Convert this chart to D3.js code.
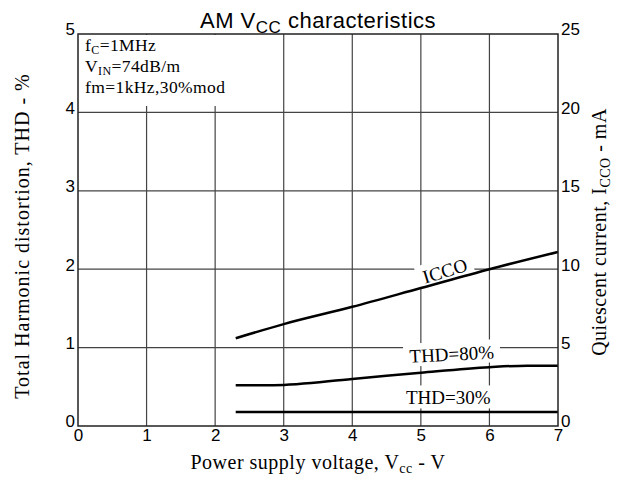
<!DOCTYPE html>
<html>
<head>
<meta charset="utf-8">
<script src="https://cdn.jsdelivr.net/npm/d3@7"></script>
<style>
body { margin: 0; background: #fff; }
.tick text { font-family: "Liberation Sans", Arial, sans-serif; font-size: 17px; fill: #000; }
.serif { font-family: "Liberation Serif", "Times New Roman", serif; fill: #000; }
</style>
</head>
<body>
<div id="chart"></div>
<script>
// data
var xTicks = [0, 1, 2, 3, 4, 5, 6, 7];
var thdTicks = [0, 1, 2, 3, 4, 5];
var iccTicks = [0, 5, 10, 15, 20, 25];

var iccoVcc = [2.3, 3, 4, 5, 6, 7];
var iccoMa = [5.6, 6.5, 7.6, 8.8, 10.0, 11.1];

var thd80Vcc = [2.3, 2.85, 4, 5, 6, 6.55, 7];
var thd80 = [0.52, 0.52, 0.6, 0.68, 0.75, 0.77, 0.77];

var thd30Vcc = [2.3, 7];
var thd30 = [0.18, 0.18];

var W = 619, H = 479;
var margin = {top: 34, bottom: 53, left: 78, right: 61};
var width = W - margin.left - margin.right;
var height = H - margin.top - margin.bottom;

var svg = d3.select("#chart").append("svg")
    .attr("width", W).attr("height", H);

var g = svg.append("g")
    .attr("transform", "translate(" + margin.left + "," + margin.top + ")");

var x = d3.scaleLinear().domain([0, 7]).range([0, width]);
var yL = d3.scaleLinear().domain([0, 5]).range([height, 0]);
var yR = d3.scaleLinear().domain([0, 25]).range([height, 0]);

// grid
g.selectAll(".vgrid").data(xTicks.slice(1, -1)).enter().append("line")
    .attr("x1", x).attr("x2", x).attr("y1", 0).attr("y2", height)
    .attr("stroke", "#444").attr("stroke-width", 1.2);
g.selectAll(".hgrid").data(thdTicks.slice(1, -1)).enter().append("line")
    .attr("x1", 0).attr("x2", width).attr("y1", yL).attr("y2", yL)
    .attr("stroke", "#444").attr("stroke-width", 1.2);

// condition box in the corner
var cond = g.append("g").attr("class", "serif").style("font-size", "17.5px").style("letter-spacing", "0.4px");
cond.append("rect").attr("x", 1).attr("y", 1).attr("width", 160).attr("height", 71).attr("fill", "#fff");
var t1 = cond.append("text").attr("x", 7).attr("y", 17);
t1.append("tspan").text("f");
t1.append("tspan").attr("dy", 3).style("font-size", "12px").text("C");
t1.append("tspan").attr("dy", -3).text("=1MHz");
var t2 = cond.append("text").attr("x", 7).attr("y", 38);
t2.append("tspan").text("V");
t2.append("tspan").attr("dy", 3).style("font-size", "12px").text("IN");
t2.append("tspan").attr("dy", -3).text("=74dB/m");
cond.append("text").attr("x", 7).attr("y", 59).text("fm=1kHz,30%mod");

// curve labels with white backing
function curveLabel(txt, cx, cy, angle) {
    var lg = g.append("g").attr("transform", "translate(" + cx + "," + cy + ") rotate(" + angle + ")");
    var bg = lg.append("rect").attr("fill", "#fff");
    var t = lg.append("text").attr("class", "serif").style("font-size", "19px")
        .attr("text-anchor", "middle").attr("dy", "0.35em").text(txt);
    var b = t.node().getBBox();
    bg.attr("x", b.x - 6).attr("y", b.y - 2).attr("width", b.width + 12).attr("height", b.height + 2);
    return lg;
}

var lineL = d3.line().x(function(d) { return x(d[0]); }).y(function(d) { return yL(d[1]); }).curve(d3.curveMonotoneX);
var lineR = d3.line().x(function(d) { return x(d[0]); }).y(function(d) { return yR(d[1]); }).curve(d3.curveMonotoneX);

curveLabel("ICCO", x(5.35), yR(9.9), -17);
curveLabel("THD=80%", x(5.45), yL(0.92), -3);
curveLabel("THD=30%", x(5.4), yL(0.36), 0);

g.append("path").datum(d3.zip(iccoVcc, iccoMa)).attr("d", lineR)
    .attr("fill", "none").attr("stroke", "#000").attr("stroke-width", 2.5);
g.append("path").datum(d3.zip(thd80Vcc, thd80)).attr("d", lineL)
    .attr("fill", "none").attr("stroke", "#000").attr("stroke-width", 2.5);
g.append("path").datum(d3.zip(thd30Vcc, thd30)).attr("d", lineL)
    .attr("fill", "none").attr("stroke", "#000").attr("stroke-width", 2.5);

// frame
g.append("rect").attr("width", width).attr("height", height)
    .attr("fill", "none").attr("stroke", "#222").attr("stroke-width", 1.5);

// axes
var fmt = d3.format("d");
var xAxis = g.append("g").attr("transform", "translate(0," + height + ")")
    .call(d3.axisBottom(x).tickValues(xTicks).tickFormat(fmt).tickSize(0).tickPadding(3));
xAxis.select(".domain").remove();
var yAxisL = g.append("g")
    .call(d3.axisLeft(yL).tickValues(thdTicks).tickFormat(fmt).tickSize(0).tickPadding(3));
yAxisL.select(".domain").remove();
yAxisL.selectAll(".tick text").attr("dy", "0.05em");
var yAxisR = g.append("g").attr("transform", "translate(" + width + ",0)")
    .call(d3.axisRight(yR).tickValues(iccTicks).tickFormat(fmt).tickSize(0).tickPadding(3));
yAxisR.select(".domain").remove();
yAxisR.selectAll(".tick text").attr("dy", "0.05em");

// title
var title = svg.append("text").attr("x", 318).attr("y", 28).attr("text-anchor", "middle")
    .style("font-family", "'Liberation Sans', Arial, sans-serif").style("font-size", "22px")
    .style("letter-spacing", "0.5px");
title.append("tspan").text("AM V");
title.append("tspan").attr("dy", 5).style("font-size", "17px").text("CC");
title.append("tspan").attr("dy", -5).text(" characteristics");

// axis titles
var xt = svg.append("text").attr("class", "serif").style("font-size", "20px").style("letter-spacing", "0.5px")
    .attr("x", 318).attr("y", 469).attr("text-anchor", "middle");
xt.append("tspan").text("Power supply voltage, V");
xt.append("tspan").attr("dy", 4).style("font-size", "14px").text("cc");
xt.append("tspan").attr("dy", -4).text(" - V");

svg.append("text").attr("class", "serif").style("font-size", "20px").style("letter-spacing", "1px")
    .attr("transform", "translate(29,236) rotate(-90)")
    .attr("text-anchor", "middle").text("Total Harmonic distortion, THD - %");

var rt = svg.append("text").attr("class", "serif").style("font-size", "20px").style("letter-spacing", "0.5px")
    .attr("transform", "translate(606,232) rotate(-90)")
    .attr("text-anchor", "middle");
rt.append("tspan").text("Quiescent current, I");
rt.append("tspan").attr("dy", 4).style("font-size", "14px").text("CCO");
rt.append("tspan").attr("dy", -4).text(" - mA");
</script>
</body>
</html>
